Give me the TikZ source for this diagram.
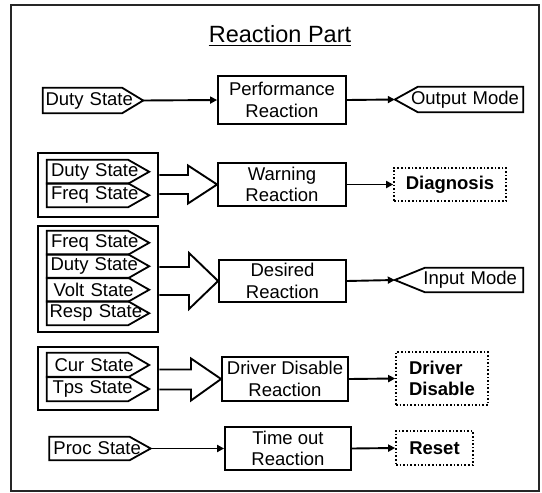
\documentclass[tikz,border=0pt]{standalone}
\usepackage{fontspec}
\setmainfont{Liberation Sans}
\usetikzlibrary{arrows.meta}
\tikzset{
  every node/.style={font=\fontsize{18.5}{21.5}\selectfont},
  rbox/.style={draw, line width=1.8pt, align=center, inner sep=0pt},
  dbox/.style={draw, dotted, line width=1.6pt, align=center, inner sep=0pt, font=\fontsize{18.5}{21.5}\selectfont\bfseries},
  grp/.style={draw, line width=2.6pt, inner sep=0pt},
  sigtxt/.style={inner ysep=0pt, inner xsep=2.5pt, align=left},
  sl/.style={line width=1.8pt, line join=miter},
  conn/.style={line width=1.9pt, -{Triangle[length=7pt,width=7pt]}},
  fat/.style={line width=1.9pt, line join=miter, fill=white},
}
\newcommand\sigR[1]{\draw[sl] (#1.north west) -- ([xshift=-21pt]#1.north east) -- (#1.east) -- ([xshift=-21pt]#1.south east) -- (#1.south west) -- cycle;}
\newcommand\sigL[2]{\draw[sl] (#1.north east) -- ([xshift=#2]#1.north west) -- (#1.west) -- ([xshift=#2]#1.south west) -- (#1.south east) -- cycle;}
\begin{document}
\begin{tikzpicture}[x=1pt,y=-1pt]
\useasboundingbox (0,0) rectangle (542,493);
\fill[white] (0,0) rectangle (542,493);
\draw[line width=2pt, black!85] (11,5) rectangle (539,491);

% title
\node[inner sep=0pt, font=\fontsize{23.5}{26}\selectfont] (title) at (280,34) {Reaction Part};
\draw[line width=1.2pt] ([yshift=-2.5pt]title.south west) -- ([yshift=-2.5pt]title.south east);

% ---------- row 1
\node[sigtxt, text width=95pt, minimum height=25pt] (d1) at (93,100.5) {Duty State};
\sigR{d1}
\node[rbox, minimum width=128pt, minimum height=48pt] (perf) at (282,100) {Performance\\Reaction};
\node[inner ysep=0pt, inner xsep=4pt, text width=120pt, align=right, minimum height=25pt] (out) at (459,99.5) {Output Mode};
\sigL{out}{23pt}
\draw[conn] (d1.east) -- (perf.west);
\draw[conn] (perf.east) -- (out.west);

% ---------- row 2
\node[rbox, minimum width=128pt, minimum height=43pt] (warn) at (282,184.5) {Warning\\Reaction};
\node[grp, minimum width=120pt, minimum height=64pt] (g2) at (98,185) {};
\draw[fat] (g2.east |- 0,175) -- (188,175) -- (188,165.5) -- (warn.west) -- (188,203.5) -- (188,194) -- (g2.east |- 0,194);
\node[grp, minimum width=120pt, minimum height=64pt] at (g2) {};
\node[sigtxt, text width=97pt, minimum height=23.5pt] (d2) at (98,171.75) {\hspace*{1.5pt}Duty State};
\sigR{d2}
\node[sigtxt, text width=97pt, minimum height=23.5pt] (f2) at (98,195.25) {\hspace*{1.5pt}Freq State};
\sigR{f2}
\node[dbox, minimum width=112pt, minimum height=33pt] (diag) at (450,184.5) {Diagnosis};
\draw[conn] (warn.east) -- (diag.west);

% ---------- row 3
\node[rbox, minimum width=127pt, minimum height=42pt] (des) at (282.5,281) {Desired\\Reaction};
\node[grp, minimum width=120pt, minimum height=106pt] (g3) at (98,279) {};
\draw[fat] (g3.east |- 0,267) -- (189,267) -- (189,253) -- (des.west) -- (189,309) -- (189,295) -- (g3.east |- 0,295);
\node[grp, minimum width=120pt, minimum height=106pt] at (g3) {};
\node[sigtxt, text width=97pt, minimum height=23.5pt] (f3) at (98,242.75) {\hspace*{1.5pt}Freq State};
\sigR{f3}
\node[sigtxt, text width=97pt, minimum height=23.5pt] (d3) at (98,266.25) {\hspace*{1pt}Duty State};
\sigR{d3}
\node[sigtxt, text width=97pt, minimum height=23.5pt] (v3) at (98,289.75) {\hspace*{4pt}Volt State};
\sigR{v3}
\node[sigtxt, text width=97pt, minimum height=23.5pt] (r3) at (98,313.25) {Resp State};
\sigR{r3}
\node[inner ysep=0pt, inner xsep=6pt, text width=116pt, align=right, minimum height=24pt] (inp) at (459,280) {Input Mode};
\sigL{inp}{30pt}
\draw[conn] (des.east) -- (inp.west);

% ---------- row 4
\node[rbox, minimum width=126pt, minimum height=44pt] (drv) at (285,379) {Driver Disable\\Reaction};
\node[grp, minimum width=120pt, minimum height=63pt] (g4) at (98,378.5) {};
\draw[fat] (g4.east |- 0,369.5) -- (191,369.5) -- (191,358.5) -- (drv.west) -- (191,400.5) -- (191,389.5) -- (g4.east |- 0,389.5);
\node[grp, minimum width=120pt, minimum height=63pt] at (g4) {};
\node[sigtxt, text width=97pt, minimum height=24pt] (c4) at (98,365) {\hspace*{5pt}Cur State};
\sigR{c4}
\node[sigtxt, text width=97pt, minimum height=24pt] (t4) at (98,389) {\hspace*{3pt}Tps State};
\sigR{t4}
\node[dbox, minimum width=92pt, minimum height=53pt, align=left] (dd) at (442,378.5) {Driver\\Disable};
\draw[conn] (drv.east) -- (dd.west);

% ---------- row 5
\node[sigtxt, text width=96pt, minimum height=23pt] (p5) at (100,448.5) {\hspace*{1.5pt}Proc State};
\sigR{p5}
\node[rbox, minimum width=126pt, minimum height=43pt] (tmo) at (288,448.5) {Time out\\Reaction};
\node[dbox, minimum width=77pt, minimum height=34pt] (rst) at (434.5,448) {Reset};
\draw[conn] (p5.east) -- (tmo.west);
\draw[conn] (tmo.east) -- (rst.west);
\end{tikzpicture}
\end{document}
